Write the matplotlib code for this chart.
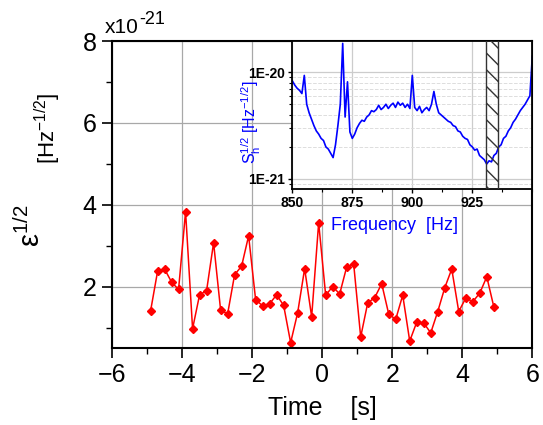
import numpy as np
import matplotlib
matplotlib.use("Agg")
import matplotlib.pyplot as plt
from matplotlib.patches import Rectangle
from matplotlib.ticker import MultipleLocator, LogLocator, NullFormatter

plt.rcParams['font.family'] = ['Liberation Sans', 'DejaVu Sans']
plt.rcParams['mathtext.fontset'] = 'custom'
plt.rcParams['mathtext.rm'] = 'Liberation Sans'
plt.rcParams['mathtext.it'] = 'Liberation Sans:italic'
plt.rcParams['mathtext.bf'] = 'Liberation Sans:bold'

# main series: eps^(1/2) in units of 1e-21 Hz^-1/2
time_s = np.round(np.arange(-4.9, 4.91, 0.2), 1)
eps_half = [1.40, 2.37, 2.43, 2.11, 1.93, 3.83, 0.97, 1.80, 1.90, 3.07,
            1.43, 1.33, 2.29, 2.50, 3.24, 1.68, 1.53, 1.58, 1.80, 1.54,
            0.63, 1.36, 2.44, 1.26, 3.56, 1.79, 2.00, 1.82, 2.48, 2.55,
            0.77, 1.60, 1.73, 2.07, 1.33, 1.20, 1.79, 0.67, 1.13, 1.11,
            0.87, 1.39, 1.97, 2.43, 1.39, 1.72, 1.63, 1.84, 2.24, 1.51]

# inset: sensitivity curve, log10 of S_h^1/2, one value per Hz
freq_hz = np.arange(850, 951)
log_sh = [-20.08, -20.12, -20.15, -20.17, -20.20, -20.03, -20.30, -20.38, -20.44, -20.50,
          -20.55, -20.58, -20.62, -20.64, -20.70, -20.72, -20.76, -20.80, -20.68, -20.50,
          -20.30, -19.73, -20.42, -20.09, -20.56, -20.62, -20.58, -20.52, -20.48, -20.45,
          -20.46, -20.42, -20.40, -20.36, -20.37, -20.35, -20.31, -20.35, -20.33, -20.30,
          -20.34, -20.31, -20.29, -20.33, -20.28, -20.31, -20.29, -20.33, -20.30, -20.34,
          -20.03, -20.33, -20.36, -20.32, -20.38, -20.35, -20.33, -20.36, -20.30, -20.18,
          -20.30, -20.38, -20.40, -20.42, -20.44, -20.46, -20.47, -20.50, -20.51, -20.55,
          -20.56, -20.60, -20.62, -20.63, -20.68, -20.70, -20.73, -20.72, -20.78, -20.80,
          -20.82, -20.86, -20.83, -20.84, -20.78, -20.76, -20.70, -20.68, -20.62, -20.60,
          -20.55, -20.52, -20.47, -20.44, -20.40, -20.36, -20.33, -20.30, -20.26, -20.22,
          -19.85]
band_hz = (930.5, 935.5)

fig = plt.figure(figsize=(5.43, 4.25), dpi=100)
ax = fig.add_axes([0.2063, 0.1812, 0.774, 0.7223])

ax.plot(time_s, eps_half, color='#ff0000', lw=1.1, marker='D', ms=4.5,
        markeredgecolor='#ff0000', markerfacecolor='#ff0000')
ax.set_xlim(-6, 6)
ax.set_ylim(0.5, 8)
ax.xaxis.set_major_locator(MultipleLocator(2))
ax.xaxis.set_minor_locator(MultipleLocator(1))
ax.yaxis.set_minor_locator(MultipleLocator(1))
ax.set_yticks([2, 4, 6, 8])
ax.tick_params(which='major', length=7, width=1.2, labelsize=18, pad=4)
ax.tick_params(which='minor', length=4, width=1.0)
ax.grid(True, which='major', color='#a8a8a8', lw=0.9)
for s in ax.spines.values():
    s.set_linewidth(1.5)
ax.set_xlabel('Time    [s]', fontsize=18, labelpad=6)

# axis multiplier and y label pieces
fig.text(105/543, 1-33/425, 'x10', fontsize=15, va='baseline', ha='left')
fig.text(139/543, 1-24/425, '-21', fontsize=13, va='baseline', ha='left')
fig.text(31/543, 1-226/425, 'ε$^{1/2}$', fontsize=21, rotation=90, ha='center', va='center')
fig.text(48/543, 1-128/425, r'[Hz$^{-1/2}$]', fontsize=16, rotation=90, ha='center', va='center')

# inset
ins = fig.add_axes([0.5383, 0.5553, 0.4420, 0.3482])
ins.set_facecolor('white')
ins.semilogy(freq_hz, 10.0 ** np.array(log_sh), color='#0000ff', lw=1.2)
ins.add_patch(Rectangle((band_hz[0], 8e-22), band_hz[1] - band_hz[0], 2e-20 - 8e-22,
                        facecolor='none', edgecolor='#333333', hatch='\\\\', lw=1.0, zorder=3))
ins.set_xlim(850, 950)
ins.set_ylim(8.05e-22, 1.96e-20)
ins.set_xticks([850, 875, 900, 925])
ins.xaxis.set_minor_locator(MultipleLocator(12.5))
ins.set_yticks([1e-21, 1e-20])
ins.set_yticklabels(['1E-21', '1E-20'])
ins.yaxis.set_minor_locator(LogLocator(base=10, subs=np.arange(2, 10)))
ins.yaxis.set_minor_formatter(NullFormatter())
ins.tick_params(which='major', length=3, width=1, labelsize=10, pad=2)
ins.tick_params(which='minor', length=2, width=0.8)
plt.setp(ins.get_xticklabels(), fontweight='bold')
plt.setp(ins.get_yticklabels(), fontweight='bold')
ins.grid(True, which='major', color='#cccccc', lw=0.9)
ins.grid(True, which='minor', axis='y', color='#dddddd', lw=0.7, ls='--')
for s in ins.spines.values():
    s.set_linewidth(1.3)
ins.set_xlabel('Frequency  [Hz]', fontsize=13, color='#0000ff')
ins.xaxis.set_label_coords(0.425, -0.19)
ins.set_ylabel(r'S$_\mathrm{h}^{1/2}$ [Hz$^{-1/2}$]', fontsize=11.5, color='#0000ff')
ins.yaxis.set_label_coords(-0.12, 0.45)

fig.savefig('out.png', dpi=100)
